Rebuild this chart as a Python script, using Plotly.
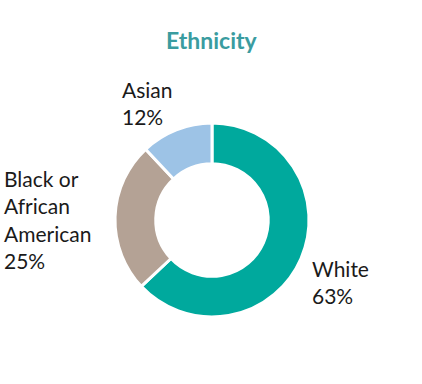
import plotly.graph_objects as go

categories = ["White", "Black or African American", "Asian"]
values = [63, 25, 12]
colors = ["#00A99D", "#B4A295", "#9DC3E6"]
label_texts = ["White<br>63%", "Black or<br>African<br>American<br>25%", "Asian<br>12%"]

W, H = 422, 384
cx, cy, r = 212, 220, 97

fig = go.Figure(go.Pie(
    labels=categories, values=values, hole=0.58, sort=False,
    direction="clockwise", rotation=0,
    marker=dict(colors=colors, line=dict(color="white", width=3)),
    textinfo="none", hoverinfo="label+percent", showlegend=False,
    domain=dict(x=[(cx - r) / W, (cx + r) / W], y=[(H - cy - r) / H, (H - cy + r) / H]),
))

label_pos = [(310, 282), (2, 219), (120, 103)]
for txt, (px, py) in zip(label_texts, label_pos):
    fig.add_annotation(text=txt, x=px / W, y=1 - py / H, xref="paper", yref="paper",
                       xanchor="left", yanchor="middle", align="left", showarrow=False,
                       font=dict(family="Lato", size=21, color="#1a1a1a"))

fig.add_annotation(text="<b>Ethnicity</b>", x=212 / W, y=1 - 40 / H, xref="paper", yref="paper",
                   xanchor="center", yanchor="middle", showarrow=False,
                   font=dict(family="Lato", size=23, color="#3A9CA0"))

fig.update_layout(width=W, height=H, margin=dict(l=0, r=0, t=0, b=0),
                  paper_bgcolor="white", plot_bgcolor="white")
fig.write_html("out.html")
